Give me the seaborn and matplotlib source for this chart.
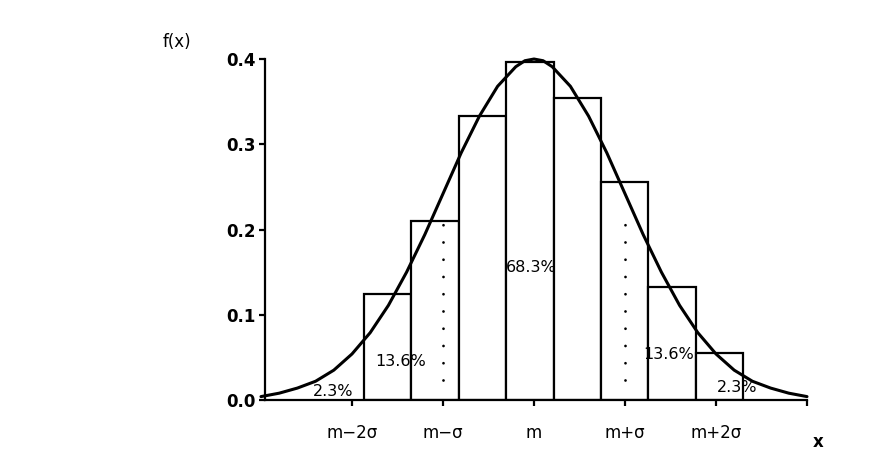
import matplotlib
matplotlib.use("Agg")
import matplotlib.pyplot as plt
import seaborn as sns
import pandas as pd

# ---------------- data (x in units of sigma around m) ----
bin_edges = [-1.868, -1.347, -0.826, -0.305, 0.215, 0.736, 1.257, 1.777, 2.297]
bar_centers = [-1.608, -1.087, -0.566, -0.045, 0.476, 0.997, 1.517, 2.037]
bar_heights = [0.124, 0.210, 0.333, 0.396, 0.354, 0.256, 0.133, 0.055]

curve_x = [-3.0, -2.8, -2.6, -2.4, -2.2, -2.0, -1.8, -1.6, -1.4, -1.2, -1.0,
           -0.8, -0.6, -0.4, -0.2, -0.1, 0.0, 0.1, 0.2, 0.4, 0.6, 0.8, 1.0,
           1.2, 1.4, 1.6, 1.8, 2.0, 2.2, 2.4, 2.6, 2.8, 3.0]
curve_y = [0.004, 0.008, 0.014, 0.022, 0.035, 0.054, 0.079, 0.111, 0.150,
           0.194, 0.242, 0.290, 0.333, 0.368, 0.391, 0.398, 0.400, 0.398,
           0.391, 0.368, 0.333, 0.290, 0.242, 0.194, 0.150, 0.111, 0.079,
           0.054, 0.035, 0.022, 0.014, 0.008, 0.004]

sigma_lines = [-1.0, 1.0]
sigma_line_range = [0.023, 0.223]

x_ticks = [-2, -1, 0, 1, 2, 3]
x_tick_labels = ["m\u22122\u03c3", "m\u2212\u03c3", "m", "m+\u03c3", "m+2\u03c3", ""]
y_ticks = [0.0, 0.1, 0.2, 0.3, 0.4]
y_tick_labels = ["0.0", "0.1", "0.2", "0.3", "0.4"]

pct_labels = ["2.3%", "13.6%", "68.3%", "13.6%", "2.3%"]

# ---------------- figure ----------------
sns.set_style("ticks")
plt.rcParams["font.family"] = ["DejaVu Sans"]
plt.rcParams["text.color"] = "black"
plt.rcParams["xtick.color"] = "black"
plt.rcParams["ytick.color"] = "black"
plt.rcParams["axes.edgecolor"] = "black"
plt.rcParams["axes.labelcolor"] = "black"

fig = plt.figure(figsize=(8.92, 4.54), dpi=100)
ax = fig.add_axes([265 / 892, 54 / 454, 542 / 892, 349.5 / 454])

bars = pd.DataFrame({"x": bar_centers, "h": bar_heights})
sns.histplot(data=bars, x="x", weights="h", bins=bin_edges, stat="count",
             color="white", edgecolor="black", linewidth=1.6, alpha=1,
             ax=ax, zorder=2)

curve = pd.DataFrame({"x": curve_x, "y": curve_y})
sns.lineplot(data=curve, x="x", y="y", color="black", linewidth=2.2,
             ax=ax, zorder=4, clip_on=False)

ax.vlines(sigma_lines, sigma_line_range[0], sigma_line_range[1],
          colors="black", linewidth=2.0, linestyles=[(0, (0.01, 6.2))],
          capstyle="round", zorder=3)

ax.set_xlim(-2.956, 3.0)
ax.set_ylim(0, 0.41)
ax.spines["left"].set_bounds(0, 0.4)
sns.despine(ax=ax)
for s in ["left", "bottom"]:
    ax.spines[s].set_linewidth(1.6)

ax.set_xticks(x_ticks)
ax.set_xticklabels(x_tick_labels, fontsize=12, color="black")
ax.set_yticks(y_ticks)
ax.set_yticklabels(y_tick_labels, fontsize=12, fontweight="bold", color="black")
ax.tick_params(axis="x", length=4, width=1.6, pad=13, direction="out")
ax.tick_params(axis="y", length=4, width=1.6, pad=3, direction="out")
ax.set_xlabel("")
ax.set_ylabel("")

pct_pos = [(-2.21, 0.010), (-1.47, 0.045), (-0.03, 0.156), (1.48, 0.053), (2.23, 0.015)]
for (px, py), lab in zip(pct_pos, pct_labels):
    ax.text(px, py, lab, ha="center", va="center", fontsize=11.5, color="black", zorder=5)

fig.text(0.198, 0.9075, "f(x)", ha="center", va="center", fontsize=12, color="black")
fig.text(0.917, 3 / 454, "x", ha="center", va="bottom", fontsize=12,
         fontweight="bold", color="black")

fig.savefig("out.png", dpi=100, facecolor="white")
